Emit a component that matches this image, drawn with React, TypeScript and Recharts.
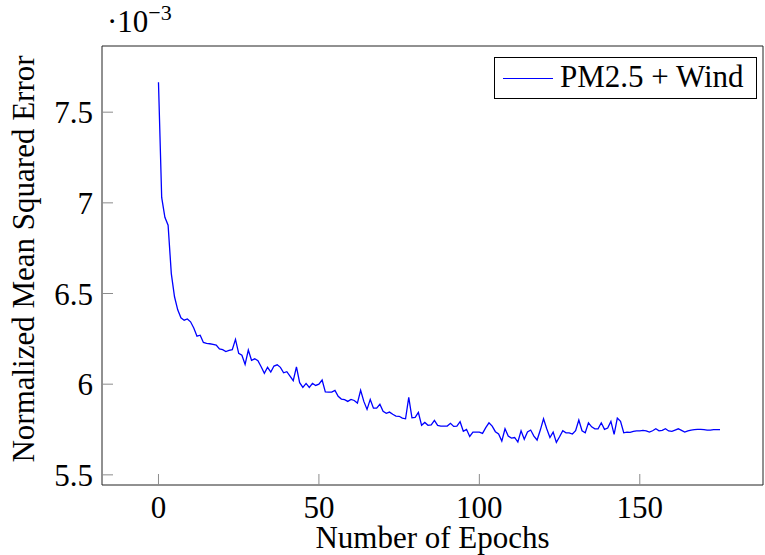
import { LineChart, Line, XAxis, YAxis, Legend, Label } from "recharts";

// normalized MSE per epoch, in units of 1e-3
const mse = [
  7.665, 7.03, 6.92, 6.877, 6.61, 6.482, 6.41, 6.366, 6.353, 6.36,
  6.344, 6.31, 6.265, 6.27, 6.23, 6.225, 6.223, 6.22, 6.216, 6.194,
  6.19, 6.18, 6.186, 6.19, 6.247, 6.17, 6.16, 6.109, 6.188, 6.132,
  6.14, 6.13, 6.096, 6.06, 6.093, 6.067, 6.1, 6.107, 6.093, 6.063,
  6.069, 6.045, 6.019, 6.096, 6.008, 5.982, 6.004, 5.982, 6.004, 5.993,
  6.0, 6.023, 5.958, 5.956, 5.956, 5.966, 5.933, 5.918, 5.915, 5.905,
  5.916, 5.91, 5.896, 5.966, 5.905, 5.861, 5.916, 5.868, 5.868, 5.889,
  5.85, 5.839, 5.846, 5.834, 5.824, 5.823, 5.813, 5.809, 5.927, 5.815,
  5.817, 5.844, 5.773, 5.789, 5.773, 5.775, 5.8, 5.773, 5.769, 5.769,
  5.769, 5.784, 5.767, 5.769, 5.793, 5.74, 5.751, 5.712, 5.736, 5.736,
  5.736, 5.729, 5.76, 5.787, 5.769, 5.738, 5.725, 5.686, 5.754, 5.714,
  5.703, 5.706, 5.681, 5.743, 5.696, 5.736, 5.747, 5.714, 5.692, 5.747,
  5.809, 5.754, 5.706, 5.736, 5.679, 5.71, 5.743, 5.732, 5.732, 5.725,
  5.743, 5.802, 5.743, 5.732, 5.787, 5.765, 5.754, 5.754, 5.787, 5.751,
  5.758, 5.795, 5.723, 5.813, 5.795, 5.732, 5.736, 5.734, 5.74, 5.742,
  5.743, 5.745, 5.743, 5.736, 5.743, 5.754, 5.743, 5.745, 5.754, 5.742,
  5.74, 5.747, 5.754, 5.745, 5.736, 5.743, 5.747, 5.749, 5.751, 5.751,
  5.749, 5.747, 5.747, 5.749, 5.749, 5.749,
];

const xTicks = [0, 50, 100, 150];
const yTicks = [5.5, 6, 6.5, 7, 7.5];
const seriesName = "PM2.5 + Wind";

const data = mse.map((v, i) => ({ epoch: i, mse: v }));

const FONT = "'Liberation Serif', serif";
const tickFont = { fontSize: 31, fill: "#000", fontFamily: FONT };
const tickLineStyle = { stroke: "#8c8c8c", strokeWidth: 1 };

function LegendBox() {
  return (
    <div
      style={{
        width: 261,
        height: 40,
        border: "1px solid #000",
        background: "#fff",
        position: "relative",
        fontFamily: FONT,
        fontSize: 31,
      }}
    >
      <div style={{ position: "absolute", left: 8, top: 20, width: 50, borderTop: "1.3px solid #0000ff" }} />
      <div style={{ position: "absolute", left: 65, top: 1, lineHeight: "36px", whiteSpace: "nowrap" }}>{seriesName}</div>
    </div>
  );
}

export default function App() {
  return (
    <div style={{ position: "absolute", left: 0, top: 0, width: 765, height: 555, background: "#fff" }}>
      <LineChart width={765} height={555} data={data} margin={{ top: 45, right: 0, bottom: 10, left: 0 }}>
        <XAxis
          dataKey="epoch"
          type="number"
          domain={[-17.6, 188.4]}
          ticks={xTicks}
          allowDataOverflow
          height={60}
          tickSize={-11}
          tickMargin={22}
          tickLine={tickLineStyle}
          axisLine={{ stroke: "#222" }}
          tick={tickFont}
        >
          <Label
            content={() => (
              <text x={432.5} y={548} textAnchor="middle" fontSize={31} fill="#000" fontFamily={FONT}>
                Number of Epochs
              </text>
            )}
          />
        </XAxis>
        <XAxis
          xAxisId="top"
          orientation="top"
          dataKey="epoch"
          type="number"
          domain={[-17.6, 188.4]}
          ticks={xTicks}
          allowDataOverflow
          height={1}
          tickSize={-11}
          tick={false}
          tickLine={tickLineStyle}
          axisLine={{ stroke: "#222" }}
        />
        <YAxis
          type="number"
          domain={[5.444, 7.865]}
          ticks={yTicks}
          allowDataOverflow
          width={102}
          tickSize={-11}
          tickMargin={20}
          tickLine={tickLineStyle}
          axisLine={{ stroke: "#222" }}
          tick={tickFont}
          tickFormatter={(v: number) => String(v)}
        >
          <Label
            content={() => (
              <text
                x={34}
                y={259}
                transform="rotate(-90 34 259)"
                textAnchor="middle"
                fontSize={31}
                fill="#000"
                fontFamily={FONT}
              >
                Normalized Mean Squared Error
              </text>
            )}
          />
        </YAxis>
        <YAxis
          yAxisId="right"
          orientation="right"
          type="number"
          domain={[5.444, 7.865]}
          ticks={yTicks}
          allowDataOverflow
          width={2}
          tickSize={-11}
          tick={false}
          tickLine={tickLineStyle}
          axisLine={{ stroke: "#222" }}
        />
        <Legend
          layout="vertical"
          verticalAlign="middle"
          align="center"
          wrapperStyle={{ position: "absolute", left: 494, top: 57, width: "auto", height: "auto" }}
          content={() => <LegendBox />}
        />
        <Line
          type="linear"
          dataKey="mse"
          name={seriesName}
          stroke="#0000ff"
          strokeWidth={1.3}
          dot={false}
          isAnimationActive={false}
        />
      </LineChart>
      <div style={{ position: "absolute", left: 107, top: 6, fontFamily: FONT, fontSize: 31, lineHeight: "31px", whiteSpace: "nowrap" }}>
        ·10<span style={{ position: "relative", top: -12, fontSize: 22 }}>−3</span>
      </div>
    </div>
  );
}
